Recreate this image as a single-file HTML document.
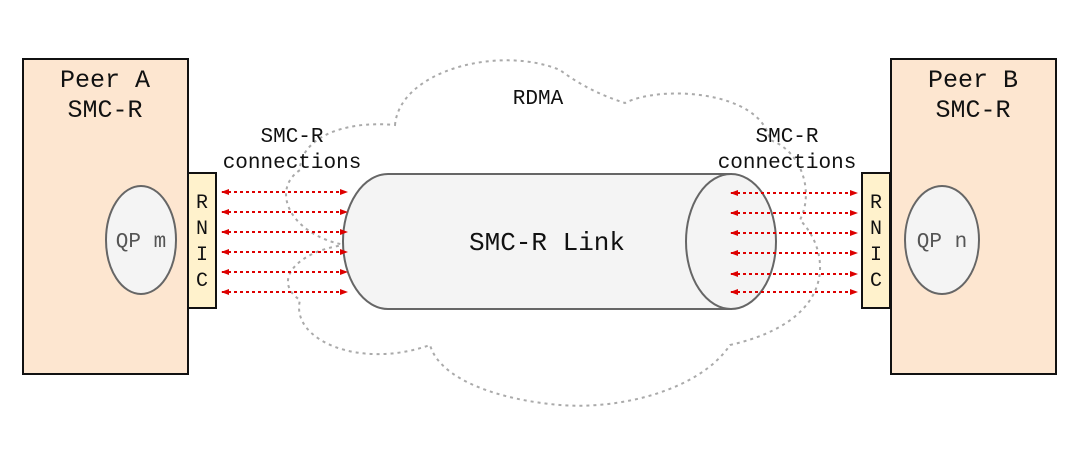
<!DOCTYPE html>
<html><head><meta charset="utf-8"><style>
body{margin:0;background:#fff;}
svg{display:block;}
text{font-family:"Liberation Mono",monospace;fill:#111;}
</style></head><body>
<svg width="1080" height="450" viewBox="0 0 1080 450">
<defs>
<marker id="a" markerWidth="8" markerHeight="6" refX="7" refY="3" orient="auto-start-reverse" markerUnits="userSpaceOnUse"><path d="M0,0 L8,3 L0,6 z" fill="#d00"/></marker>
</defs>
<path d="M395,125 C400,70 500,45 560,70 C580,85 600,95 625,103 C660,85 760,90 770,140 C800,150 815,190 800,220 C830,250 840,320 730,345 C700,390 620,410 560,405 C500,400 440,380 430,345 C360,370 290,340 300,300 C270,280 300,250 345,245 C290,235 270,190 300,170 C300,140 340,120 395,125 Z" fill="none" stroke="#aaa" stroke-width="2" stroke-dasharray="3,4"/>
<rect x="23" y="59" width="165" height="315" fill="#fde6d0" stroke="#111" stroke-width="2"/>
<rect x="891" y="59" width="165" height="315" fill="#fde6d0" stroke="#111" stroke-width="2"/>
<text x="105" y="87" font-size="25" text-anchor="middle">Peer A</text>
<text x="105" y="117" font-size="25" text-anchor="middle">SMC-R</text>
<text x="973" y="87" font-size="25" text-anchor="middle">Peer B</text>
<text x="973" y="117" font-size="25" text-anchor="middle">SMC-R</text>
<ellipse cx="141" cy="240" rx="35" ry="54" fill="#f4f4f4" stroke="#666" stroke-width="2"/>
<text x="141" y="247" font-size="21" text-anchor="middle" style="fill:#555">QP m</text>
<ellipse cx="942" cy="240" rx="37" ry="54" fill="#f4f4f4" stroke="#666" stroke-width="2"/>
<text x="942" y="247" font-size="21" text-anchor="middle" style="fill:#555">QP n</text>
<rect x="188" y="173" width="28" height="135" fill="#fff2cc" stroke="#111" stroke-width="2"/>
<rect x="862" y="173" width="28" height="135" fill="#fff2cc" stroke="#111" stroke-width="2"/>
<g font-size="20" text-anchor="middle">
<text x="202" y="208">R</text><text x="202" y="234">N</text><text x="202" y="260">I</text><text x="202" y="286">C</text>
<text x="876" y="208">R</text><text x="876" y="234">N</text><text x="876" y="260">I</text><text x="876" y="286">C</text>
</g>
<path d="M388,174 L731,174 L731,309 L388,309 A45,67.5 0 0 1 388,174 Z" fill="#f4f4f4" stroke="#666" stroke-width="2"/>
<ellipse cx="731" cy="241.5" rx="45" ry="67.5" fill="#f4f4f4" stroke="#666" stroke-width="2"/>
<text x="547" y="250" font-size="26" text-anchor="middle">SMC-R Link</text>
<text x="538" y="104" font-size="21" text-anchor="middle">RDMA</text>
<text x="292" y="142" font-size="21" text-anchor="middle">SMC-R</text>
<text x="292" y="168" font-size="21" text-anchor="middle">connections</text>
<text x="787" y="142" font-size="21" text-anchor="middle">SMC-R</text>
<text x="787" y="168" font-size="21" text-anchor="middle">connections</text>
<g stroke="#d00" stroke-width="2" stroke-dasharray="3,3" marker-start="url(#a)" marker-end="url(#a)">
<line x1="222" y1="192" x2="347" y2="192"/><line x1="222" y1="212" x2="347" y2="212"/>
<line x1="222" y1="232" x2="347" y2="232"/><line x1="222" y1="252" x2="347" y2="252"/>
<line x1="222" y1="272" x2="347" y2="272"/><line x1="222" y1="292" x2="347" y2="292"/>
<line x1="731" y1="193" x2="857" y2="193"/><line x1="731" y1="213" x2="857" y2="213"/>
<line x1="731" y1="233" x2="857" y2="233"/><line x1="731" y1="253" x2="857" y2="253"/>
<line x1="731" y1="274" x2="857" y2="274"/><line x1="731" y1="292" x2="857" y2="292"/>
</g>
</svg>
</body></html>
